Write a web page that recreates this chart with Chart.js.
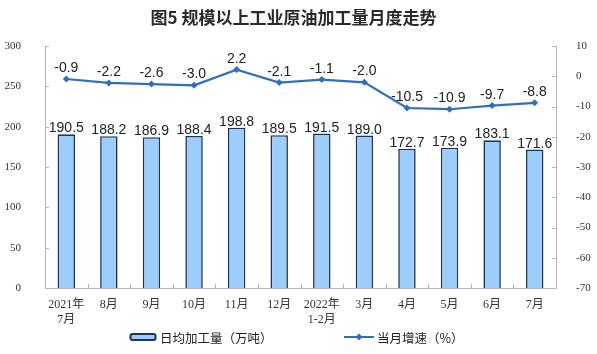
<!DOCTYPE html>
<html>
<head>
<meta charset="utf-8">
<script src="https://cdn.jsdelivr.net/npm/chart.js@4.4.1/dist/chart.umd.min.js"></script>
<style>
  html, body { margin: 0; padding: 0; background: #fff; }
  #wrap { width: 597px; height: 354px; position: relative; }
  #chart { position: absolute; left: 0; top: 0; }
  .title {
    position: absolute; left: 0; top: 5px; width: 587px; text-align: center;
    font-family: "Noto Sans CJK SC", sans-serif; font-size: 17px; font-weight: bold; color: #2a2a2a;
    line-height: 24px; white-space: pre;
  }
  .legend {
    position: absolute; top: 328px; height: 18px; display: flex; align-items: center;
    font-family: "Noto Sans CJK SC", sans-serif; font-size: 12.5px; color: #222;
  }
  .legend canvas { margin-right: 3px; }
</style>
</head>
<body>
<div id="wrap">
  <canvas id="chart" width="597" height="354"></canvas>
  <div class="title">图5 规模以上工业原油加工量月度走势</div>
  <div class="legend" style="left:129px"><canvas id="icon-bar" width="28" height="10"></canvas>日均加工量（万吨）</div>
  <div class="legend" style="left:344px"><canvas id="icon-line" width="30" height="10"></canvas>当月增速（%）</div>
</div>
<script>
const months = [['2021年', '7月'], '8月', '9月', '10月', '11月', '12月', ['2022年', '1-2月'], '3月', '4月', '5月', '6月', '7月'];
const dailyOutput = [190.5, 188.2, 186.9, 188.4, 198.8, 189.5, 191.5, 189.0, 172.7, 173.9, 183.1, 171.6];
const growth = [-0.9, -2.2, -2.6, -3.0, 2.2, -2.1, -1.1, -2.0, -10.5, -10.9, -9.7, -8.8];

const BAR_FILL = '#9dcdfb';
const BAR_EDGE = '#1d3553';
const LINE_COLOR = '#2f6fc2';
const AXIS_COLOR = '#b5b5b5';
const serif = '"Liberation Serif", "Noto Sans CJK SC", serif';
const sans = '"Liberation Sans", Arial, sans-serif';

// legend icons
(function () {
    const g = document.getElementById('icon-bar').getContext('2d');
    g.fillStyle = BAR_FILL;
    g.strokeStyle = BAR_EDGE;
    g.lineWidth = 2;
    g.beginPath();
    g.roundRect(1.5, 2, 25, 6, 2);
    g.fill();
    g.stroke();

    const h = document.getElementById('icon-line').getContext('2d');
    h.strokeStyle = LINE_COLOR;
    h.lineWidth = 2;
    h.beginPath(); h.moveTo(0, 5); h.lineTo(30, 5); h.stroke();
    h.fillStyle = LINE_COLOR;
    h.beginPath(); h.moveTo(15, 1.5); h.lineTo(18.5, 5); h.lineTo(15, 8.5); h.lineTo(11.5, 5); h.closePath(); h.fill();
})();

// numbers above bars and line points
const valueLabels = {
    id: 'valueLabels',
    afterDatasetsDraw(chart) {
        const ctx = chart.ctx;
        ctx.save();
        ctx.font = '14px ' + sans;
        ctx.fillStyle = '#222';
        ctx.textAlign = 'center';
        ctx.textBaseline = 'alphabetic';
        chart.data.datasets.forEach((ds, i) => {
            const meta = chart.getDatasetMeta(i);
            meta.data.forEach((el, j) => {
                const off = ds.type === 'bar' ? 2 : 7;
                ctx.fillText(ds.data[j].toFixed(1), el.x, el.y - off);
            });
        });
        ctx.restore();
    }
};

// short tick marks pointing into the plot
const innerTicks = {
    id: 'innerTicks',
    afterDraw(chart) {
        const ctx = chart.ctx;
        const { x, y, y2 } = chart.scales;
        ctx.save();
        ctx.strokeStyle = AXIS_COLOR;
        ctx.lineWidth = 1;
        ctx.beginPath();
        y.ticks.forEach(t => {
            const py = Math.round(y.getPixelForValue(t.value)) + 0.5;
            ctx.moveTo(y.right, py); ctx.lineTo(y.right + 4, py);
        });
        y2.ticks.forEach(t => {
            const py = Math.round(y2.getPixelForValue(t.value)) + 0.5;
            ctx.moveTo(y2.left, py); ctx.lineTo(y2.left - 4, py);
        });
        for (let i = 1; i < months.length; i++) {
            const px = Math.round((x.getPixelForTick(i - 1) + x.getPixelForTick(i)) / 2) + 0.5;
            ctx.moveTo(px, x.top); ctx.lineTo(px, x.top - 4);
        }
        ctx.stroke();
        ctx.restore();
    }
};

new Chart(document.getElementById('chart'), {
    data: {
        labels: months,
        datasets: [
            {
                type: 'line',
                label: '当月增速（%）',
                data: growth,
                yAxisID: 'y2',
                borderColor: LINE_COLOR,
                backgroundColor: LINE_COLOR,
                borderWidth: 2.2,
                pointStyle: 'rectRot',
                pointRadius: 3.5,
                pointBackgroundColor: LINE_COLOR,
                pointBorderWidth: 0,
                tension: 0,
                order: 0
            },
            {
                type: 'bar',
                label: '日均加工量（万吨）',
                data: dailyOutput,
                yAxisID: 'y',
                backgroundColor: BAR_FILL,
                borderColor: BAR_EDGE,
                borderWidth: 1.6,
                barPercentage: 0.41,
                categoryPercentage: 1,
                order: 1
            }
        ]
    },
    options: {
        responsive: false,
        animation: false,
        layout: { padding: { top: 46, left: 0, right: 0, bottom: 0 } },
        plugins: {
            title: { display: false },
            legend: { display: false },
            tooltip: { enabled: false }
        },
        scales: {
            x: {
                grid: { display: false },
                border: { color: AXIS_COLOR },
                ticks: { font: { family: serif, size: 12, lineHeight: 1.25 }, color: '#333', maxRotation: 0, autoSkip: false, padding: 1 },
                afterFit(s) { s.height = 66; }
            },
            y: {
                position: 'left',
                min: 0, max: 300,
                grid: { display: false },
                border: { color: AXIS_COLOR },
                ticks: { stepSize: 50, font: { family: serif, size: 11 }, color: '#333', padding: 16 },
                afterFit(s) { s.width = 45; }
            },
            y2: {
                position: 'right',
                min: -70, max: 10,
                grid: { display: false },
                border: { color: AXIS_COLOR },
                ticks: { stepSize: 10, font: { family: serif, size: 11 }, color: '#333', padding: 12 },
                afterFit(s) { s.width = 41; }
            }
        }
    },
    plugins: [valueLabels, innerTicks]
});
</script>
</body>
</html>
